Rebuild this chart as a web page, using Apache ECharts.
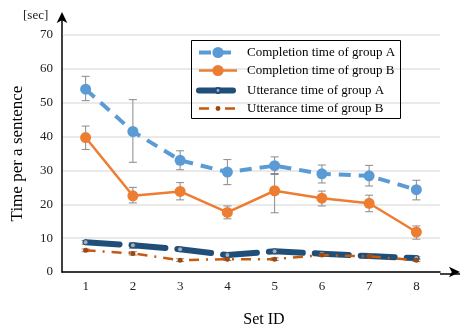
<!DOCTYPE html>
<html>
<head>
<meta charset="utf-8">
<script src="https://cdn.jsdelivr.net/npm/echarts@6/dist/echarts.min.js"></script>
<style>
  html, body { margin: 0; padding: 0; background: #fff; }
  #main { width: 466px; height: 333px; }
</style>
</head>
<body>
<div id="main"></div>
<script>
// set ids on the x axis
var setIds = ["1", "2", "3", "4", "5", "6", "7", "8"];
var yTicks = [0, 10, 20, 30, 40, 50, 60, 70];

var legendNames = [
  "Completion time of group A",
  "Completion time of group B",
  "Utterance time of group A",
  "Utterance time of group B"
];

// completion time (mean, low, high)
var complA = [54.0, 41.5, 33.0, 29.5, 31.4, 29.0, 28.4, 24.3];
var complALow = [50.6, 32.4, 30.2, 25.8, 28.8, 26.3, 25.4, 21.3];
var complAHigh = [57.8, 50.9, 35.8, 33.2, 34.0, 31.6, 31.5, 27.1];

var complB = [39.7, 22.5, 23.8, 17.6, 24.0, 21.8, 20.3, 11.8];
var complBLow = [36.2, 20.4, 21.3, 15.7, 17.5, 19.5, 17.8, 9.7];
var complBHigh = [43.1, 25.0, 26.4, 19.5, 29.1, 23.9, 22.7, 13.6];

// utterance time (mean, low, high)
var uttA = [8.8, 7.9, 6.7, 5.0, 6.1, 5.4, 4.7, 4.1];
var uttALow = [8.2, 7.0, 6.3, 4.4, 5.5, 5.0, 4.3, 3.7];
var uttAHigh = [9.3, 8.6, 7.1, 5.5, 6.6, 5.8, 5.1, 4.5];

var uttB = [6.4, 5.5, 3.5, 3.8, 3.8, 5.0, 4.6, 3.5];
var uttBLow = [6.0, 5.0, 3.1, 3.4, 3.4, 4.6, 4.2, 3.1];
var uttBHigh = [6.8, 6.0, 3.9, 4.2, 4.2, 5.4, 5.0, 3.9];

var serif = "Liberation Serif";

function errData(low, high) {
  var out = [];
  for (var i = 0; i < low.length; i++) {
    out.push([i, low[i], high[i]]);
  }
  return out;
}

function errorBars(params, api) {
  var x = api.value(0);
  var lo = api.coord([x, api.value(1)]);
  var hi = api.coord([x, api.value(2)]);
  var w = 4;
  var style = { stroke: "#8a8a8a", lineWidth: 1 };
  return {
    type: "group",
    children: [
      { type: "line", shape: { x1: lo[0], y1: lo[1], x2: hi[0], y2: hi[1] }, style: style },
      { type: "line", shape: { x1: lo[0] - w, y1: lo[1], x2: lo[0] + w, y2: lo[1] }, style: style },
      { type: "line", shape: { x1: hi[0] - w, y1: hi[1], x2: hi[0] + w, y2: hi[1] }, style: style }
    ]
  };
}

function errSeries(low, high) {
  return {
    type: "custom",
    renderItem: errorBars,
    data: errData(low, high),
    encode: { x: 0, y: [1, 2] },
    z: 1,
    silent: true
  };
}

var legendText = { fontFamily: serif, fontSize: 13, color: "#000", padding: [0, 0, 0, 5] };

var chart = echarts.init(document.getElementById("main"));

chart.setOption({
  animation: false,
  grid: { left: 62, right: 26, top: 35, bottom: 59 },
  // two legends so the utterance rows get small markers like the original
  legend: [
    {
      data: legendNames.slice(0, 2),
      orient: "vertical",
      left: 191,
      top: 43,
      padding: [3, 7, 0, 6],
      itemWidth: 38,
      itemHeight: 14,
      itemGap: 5,
      lineStyle: { width: "inherit" },
      textStyle: legendText
    },
    {
      data: legendNames.slice(2),
      orient: "vertical",
      left: 190,
      top: 84,
      padding: [0, 7, 0, 6],
      itemWidth: 38,
      itemHeight: 6,
      itemGap: 5,
      lineStyle: { width: "inherit" },
      textStyle: legendText
    }
  ],
  graphic: [
    { type: "rect", shape: { x: 191.5, y: 40.5, width: 209, height: 78 }, style: { fill: "none", stroke: "#000", lineWidth: 1 }, z: 10 },
    { type: "text", left: 23, top: 9, style: { text: "[sec]", font: "13px " + serif, fill: "#222" } },
    { type: "line", shape: { x1: 62, y1: 35, x2: 62, y2: 14 }, style: { stroke: "#000", lineWidth: 1.5 } },
    { type: "line", shape: { x1: 440, y1: 274, x2: 460, y2: 274 }, style: { stroke: "#000", lineWidth: 1.5 } }
  ],
  xAxis: {
    type: "category",
    data: setIds,
    boundaryGap: true,
    name: "Set ID",
    nameLocation: "middle",
    nameGap: 40,
    nameTextStyle: { fontFamily: serif, fontSize: 16, color: "#000", padding: [0, 0, 0, 26] },
    axisLine: {
      lineStyle: { color: "#000", width: 1.5 },
      symbol: ["none", "arrow"],
      symbolSize: [8, 11],
      symbolOffset: [0, 20]
    },
    axisTick: { show: false },
    axisLabel: { fontFamily: serif, fontSize: 13, color: "#222", margin: 8 },
    splitLine: { show: false }
  },
  yAxis: {
    type: "value",
    min: yTicks[0],
    max: yTicks[yTicks.length - 1],
    interval: 10,
    name: "Time per a sentence",
    nameLocation: "middle",
    nameRotate: 90,
    nameGap: 36,
    nameTextStyle: { fontFamily: serif, fontSize: 17, color: "#000" },
    axisLine: {
      show: true,
      lineStyle: { color: "#000", width: 1.5 },
      symbol: ["none", "arrow"],
      symbolSize: [8, 11],
      symbolOffset: [0, 23]
    },
    axisTick: { show: false },
    axisLabel: { fontFamily: serif, fontSize: 13, color: "#222", margin: 9 },
    splitLine: { lineStyle: { color: "#e3e3e3", width: 1.5 } }
  },
  series: [
    errSeries(complALow, complAHigh),
    errSeries(complBLow, complBHigh),
    errSeries(uttALow, uttAHigh),
    errSeries(uttBLow, uttBHigh),
    {
      name: legendNames[0],
      type: "line",
      data: complA,
      z: 3,
      symbol: "circle",
      symbolSize: 11,
      itemStyle: { color: "#5B9BD5" },
      lineStyle: { color: "#5B9BD5", width: 4, type: [12, 8] }
    },
    {
      name: legendNames[1],
      type: "line",
      data: complB,
      z: 3,
      symbol: "circle",
      symbolSize: 11,
      itemStyle: { color: "#ED7D31" },
      lineStyle: { color: "#ED7D31", width: 2.5 }
    },
    {
      name: legendNames[2],
      type: "line",
      data: uttA,
      z: 3,
      symbol: "circle",
      symbolSize: 5,
      itemStyle: { color: "#a4b0bd", borderColor: "#1F4E79", borderWidth: 1 },
      lineStyle: { color: "#1F4E79", width: 6, type: [34, 12], cap: "round" }
    },
    {
      name: legendNames[3],
      type: "line",
      data: uttB,
      z: 4,
      symbol: "circle",
      symbolSize: 5,
      itemStyle: { color: "#9E480E" },
      lineStyle: { color: "#C55A11", width: 2.5, type: [10, 7, 2, 7] }
    }
  ]
});
</script>
</body>
</html>
